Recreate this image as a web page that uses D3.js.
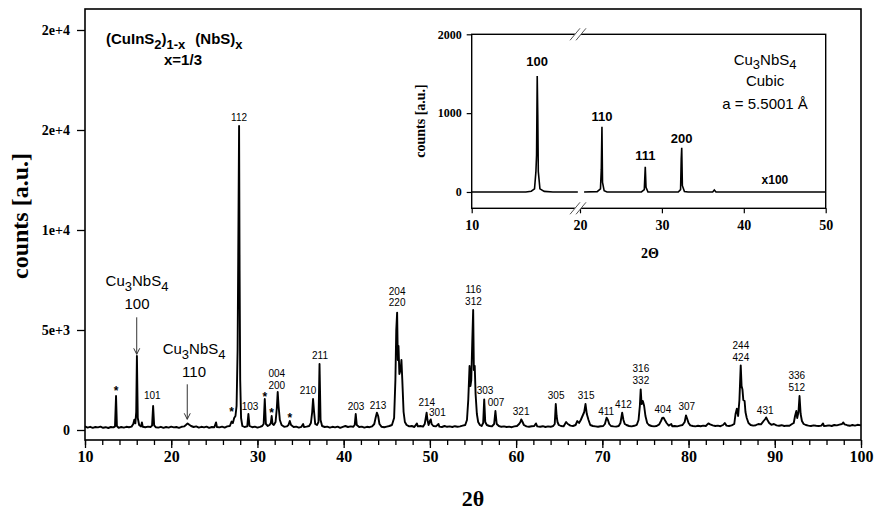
<!DOCTYPE html>
<html>
<head>
<meta charset="utf-8">
<script src="https://cdn.jsdelivr.net/npm/d3@7"></script>
<style>
body { margin: 0; background: #fff; }
svg { display: block; }
</style>
</head>
<body>
<div id="plot"></div>
<script>
// main pattern, [2theta, counts]
const mainPattern = [
  [10,180],[10.3,120],[10.6,160],[10.9,110],[11.2,150],[11.5,130],[11.8,170],[12.1,110],[12.4,140],[12.7,100],[13.0,150],[13.3,130],
  [13.48,180],[13.6,1700],[13.7,200],[13.9,110],[14.2,150],[14.5,120],[14.8,160],[15.1,140],[15.4,170],
  [15.6,300],[15.72,520],[15.84,330],[15.94,900],[16.02,3700],[16.12,600],[16.28,250],[16.5,180],[16.6,380],[16.7,160],[17.0,140],[17.3,170],[17.6,150],
  [17.78,220],[17.9,1200],[18.02,230],[18.2,140],[18.5,120],[18.8,160],[19.1,110],[19.4,150],[19.7,120],[20.0,170],[20.3,130],[20.6,150],[20.9,110],[21.2,160],[21.5,180],
  [21.7,250],[21.9,330],[22.1,260],[22.3,200],[22.6,150],[22.9,180],[23.2,120],[23.5,160],[23.8,130],[24.1,170],[24.4,110],[24.7,150],[25.0,140],[25.2,380],[25.3,150],[25.6,130],[25.9,170],[26.2,120],[26.5,180],[26.8,200],[27.0,420],[27.15,350],[27.3,600],[27.45,700],
  [27.58,1200],[27.7,4000],[27.8,10500],[27.87,15200],[27.93,8000],[28.0,2500],[28.1,600],[28.25,200],[28.5,150],
  [28.82,180],[28.95,800],[29.08,200],[29.4,140],[29.7,170],[30.0,120],[30.3,160],[30.55,200],
  [30.72,300],[30.85,1550],[30.98,300],[31.2,200],[31.4,250],[31.55,350],[31.65,700],[31.75,300],[31.9,250],
  [32.1,400],[32.25,1100],[32.35,1900],[32.45,1200],[32.6,500],[32.8,250],[33.1,160],[33.4,180],[33.6,250],[33.75,450],[33.9,250],
  [34.2,150],[34.5,170],[34.8,120],[35.1,160],[35.3,300],[35.4,150],[35.7,170],[36.0,200],[36.2,350],
  [36.35,900],[36.45,1550],[36.55,1000],[36.7,300],[36.9,250],[37.08,400],[37.2,3300],[37.32,500],[37.5,200],
  [37.8,150],[38.1,170],[38.4,120],[38.7,160],[39.0,130],[39.3,170],[39.6,110],[39.9,160],[40.2,200],[40.5,150],[40.8,180],[41.1,160],
  [41.28,250],[41.4,800],[41.52,250],[41.8,150],[42.1,170],[42.4,120],[42.7,160],[43.0,140],[43.3,180],[43.55,300],
  [43.7,600],[43.85,870],[44.0,700],[44.15,300],[44.4,160],[44.7,140],[45.0,170],[45.3,200],[45.6,250],[45.85,600],
  [46.0,2500],[46.1,5000],[46.2,5870],[46.28,3500],[46.36,4200],[46.46,2800],[46.6,3000],[46.7,3500],[46.8,2500],[46.95,900],[47.1,400],[47.3,250],[47.6,180],[47.9,200],[48.2,150],[48.5,330],[48.6,180],[48.9,200],[49.2,170],[49.4,300],
  [49.52,600],[49.62,870],[49.72,500],[49.85,250],[50.0,450],[50.1,530],[50.2,300],[50.4,200],[50.7,180],[51.0,300],[51.1,170],[51.4,150],[51.7,200],[52.0,160],[52.3,180],[52.6,150],[52.9,190],[53.2,160],[53.5,180],[53.8,220],[54.1,250],[54.3,500],
  [54.45,1500],[54.6,3200],[54.7,2200],[54.8,2500],[54.92,4500],[55.02,6000],[55.1,3000],[55.2,3200],[55.3,1800],[55.45,800],[55.6,400],[55.8,250],[56.0,200],[56.18,350],[56.3,1530],[56.42,400],[56.6,250],[56.9,200],[57.2,180],[57.45,300],
  [57.6,950],[57.75,300],[58.0,200],[58.3,160],[58.6,180],[58.9,150],[59.2,170],[59.5,140],[59.8,180],[60.1,200],[60.35,300],[60.5,400],[60.6,530],[60.75,400],[60.9,250],[61.2,180],[61.5,160],[61.8,190],[62.1,200],[62.3,330],[62.45,180],[62.8,160],[63.1,190],[63.4,150],[63.7,180],[64.0,160],[64.3,200],[64.48,300],
  [64.6,1300],[64.7,700],[64.8,400],[64.95,250],[65.2,200],[65.5,180],[65.8,400],[66.0,300],[66.3,220],[66.6,200],[66.9,250],[67.1,450],[67.3,350],[67.5,500],[67.7,700],[67.9,900],[68.05,1300],[68.2,800],[68.4,500],[68.6,250],[68.9,200],[69.2,180],[69.5,160],[69.8,190],[70.1,200],[70.3,300],
  [70.5,620],[70.65,500],[70.8,300],[71.0,200],[71.3,180],[71.6,170],[71.9,200],[72.1,350],[72.3,870],[72.45,500],[72.6,300],[72.8,250],[73.1,200],[73.4,180],[73.7,210],[74.0,260],[74.2,500],
  [74.35,1200],[74.45,2030],[74.55,1300],[74.7,1450],[74.85,1200],[75.0,700],[75.2,350],[75.4,250],[75.7,200],[76.0,180],[76.3,200],[76.6,280],[76.8,450],[76.95,600],[77.1,620],[77.25,500],[77.45,350],[77.7,220],[78.0,300],[78.1,190],[78.4,200],[78.7,180],[79.0,220],[79.3,250],[79.55,400],
  [79.7,730],[79.85,550],[80.0,350],[80.2,230],[80.5,200],[80.8,180],[81.1,210],[81.4,190],[81.7,220],[82.0,200],[82.3,330],[82.5,280],[82.8,230],[83.1,200],[83.4,220],[83.7,190],[84.0,250],[84.2,350],[84.4,220],[84.7,200],[85.0,230],[85.3,300],
  [85.45,800],[85.6,1070],[85.75,700],[85.9,1500],[86.05,3230],[86.15,2200],[86.25,2030],[86.35,1500],[86.5,1450],[86.6,900],[86.75,600],[86.95,350],[87.2,250],[87.5,220],[87.8,240],[88.1,300],[88.4,280],[88.7,450],[88.9,550],[89.0,630],[89.15,500],[89.35,350],[89.6,260],[89.9,300],
  [90.2,230],[90.5,210],[90.8,240],[91.1,200],[91.4,220],[91.7,210],[92.0,300],[92.2,350],[92.35,700],[92.5,950],[92.6,600],[92.75,900],[92.87,1700],[93.0,800],[93.15,450],[93.35,300],[93.6,250],[93.9,220],[94.2,200],[94.5,230],[94.8,210],[95.1,200],[95.4,220],[95.6,330],[95.7,200],
  [96.0,210],[96.3,230],[96.6,200],[96.9,250],[97.2,230],[97.5,270],[97.8,300],[97.95,380],[98.1,280],[98.4,240],[98.7,210],[99.0,250],[99.3,220],[99.6,260],[100,230]
];

const xTicks = [10,20,30,40,50,60,70,80,90,100];
const xMinorTicks = d3.range(10, 101, 2);
const yTicks = [0,5000,10000,15000,20000];
const yTickLabels = ["0","5e+3","1e+4","2e+4","2e+4"];

// reflection indices: [text, 2theta, counts at text baseline]
const hklLabels = [
  ["112",27.87,15435],["101",17.8,1535],["103",29.14,1000],["004",32.24,2650],["200",32.24,2035],
  ["210",35.87,1785],["211",37.26,3535],["203",41.44,985],["213",43.99,1035],["204",46.2,6735],["220",46.2,6200],
  ["214",49.64,1200],["301",50.87,700],["116",55.05,6870],["312",55.05,6250],["303",56.4,1785],["007",57.68,1200],
  ["321",60.58,750],["305",64.64,1570],["315",68.12,1535],["411",70.44,750],["412",72.45,1120],["316",74.47,2900],
  ["332",74.47,2320],["404",77.02,870],["307",79.8,985],["244",86.07,4070],["424",86.07,3450],["431",88.89,820],
  ["336",92.56,2535],["512",92.56,1950]
];
// impurity peaks marked with a star: [2theta, counts]
const starMarks = [[13.6,1735],[27.0,700],[30.85,1450],[31.65,650],[33.75,400]];
// Cu3NbS4 reflections: [hkl, text 2theta, text counts, arrow 2theta, arrow top, arrow tip]
const phaseNotes = [
  ["100",16.03,7185,16.0,5635,3785],
  ["110",22.65,3785,21.86,2285,535]
];

// inset: calculated Cu3NbS4 pattern (x100), null = broken axis gap
const insetPattern = [
  [10,0],[15.0,0],[15.5,10],[15.8,40],[15.93,260],[15.99,470],[16.05,1470],[16.1,980],[16.15,260],[16.3,40],[16.7,8],[17.5,0],[19.8,0],
  [20.1,null],
  [20.5,0],[22.1,5],[22.5,40],[22.6,280],[22.68,828],[22.75,120],[22.95,15],[23.3,0],[27.5,0],[27.85,30],[27.97,320],[28.06,60],[28.3,0],
  [32.0,0],[32.28,30],[32.36,418],[32.42,562],[32.5,80],[32.75,5],[33.2,0],[36.2,0],[36.4,25],[36.6,0],[50,0]
];
const insetXTicks = [10,20,30,40,50];
const insetYTicks = [0,1000,2000];
const insetPeakLabels = [["100",16.05,1598],["110",22.68,900],["111",27.97,406],["200",32.42,621]];

const serif = "'Liberation Serif','Times New Roman',serif";
const sans = "'Liberation Sans',Arial,sans-serif";

function chem(g, parts, x, y, size, anchor, weight) {
    // parts: [text, isSubscript, dx]
    const t = g.append("text")
        .attr("x", x).attr("y", y)
        .attr("text-anchor", anchor)
        .style("font-family", sans)
        .style("font-size", size + "px")
        .style("font-weight", weight || "normal");
    let shifted = false;
    parts.forEach(p => {
        const s = t.append("tspan").text(p[0]);
        if (p[1] && !shifted) { s.attr("dy", size*0.3).style("font-size", (size-2) + "px"); shifted = true; }
        else if (p[1]) { s.style("font-size", (size-2) + "px"); }
        else if (!p[1] && shifted) { s.attr("dy", -size*0.3); shifted = false; }
        if (p[2]) s.attr("dx", p[2]);
    });
    return t;
}

function generate() {
    const dimension = {
        width: 891,
        height: 514,
        left: 85, right: 861, top: 9, bottom: 440,
        inset: { left: 471.7, right: 825.7, top: 34.3, bottom: 208.3 }
    };

    const svg = d3.select("#plot").append("svg")
        .attr("width", dimension.width)
        .attr("height", dimension.height);

    // scales
    const x = d3.scaleLinear().domain([10, 100]).range([dimension.left, dimension.right]);
    const y = d3.scaleLinear().domain([-500, 21050]).range([dimension.bottom, dimension.top]);

    // axes
    const xMinor = d3.axisBottom(x).tickValues(xMinorTicks).tickSize(5).tickFormat("").tickSizeOuter(0);
    const xMajor = d3.axisBottom(x).tickValues(xTicks).tickSize(8).tickPadding(3).tickSizeOuter(0);
    const yAxis = d3.axisLeft(y).tickValues(yTicks).tickSize(8).tickPadding(7)
        .tickFormat((d, i) => yTickLabels[i]).tickSizeOuter(0);

    const gxm = svg.append("g").attr("transform", `translate(0,${dimension.bottom})`).call(xMinor);
    const gx = svg.append("g").attr("transform", `translate(0,${dimension.bottom})`).call(xMajor);
    const gy = svg.append("g").attr("transform", `translate(${dimension.left},0)`).call(yAxis);
    [gxm, gx, gy].forEach(g => {
        g.select(".domain").remove();
        g.selectAll(".tick line").attr("stroke", "#000").attr("stroke-width", 1.3);
    });
    gx.selectAll("text").style("font-family", serif).style("font-weight", "bold").style("font-size", "16px").attr("fill", "#000");
    gy.selectAll("text").style("font-family", serif).style("font-weight", "bold").style("font-size", "14px").attr("fill", "#000");

    // frame
    svg.append("rect")
        .attr("x", dimension.left).attr("y", dimension.top)
        .attr("width", dimension.right - dimension.left)
        .attr("height", dimension.bottom - dimension.top)
        .attr("fill", "none").attr("stroke", "#000").attr("stroke-width", 1.6);

    // axis titles
    svg.append("text")
        .attr("transform", "translate(28,216) rotate(-90)")
        .attr("text-anchor", "middle")
        .style("font-family", serif).style("font-weight", "bold").style("font-size", "24px")
        .text("counts [a.u.]");
    svg.append("text")
        .attr("x", 473).attr("y", 506)
        .attr("text-anchor", "middle")
        .style("font-family", serif).style("font-weight", "bold").style("font-size", "22px")
        .text("2θ");

    // pattern
    const line = d3.line().x(d => x(d[0])).y(d => y(d[1]));
    svg.append("path")
        .datum(mainPattern)
        .attr("d", line)
        .attr("fill", "none").attr("stroke", "#000").attr("stroke-width", 1.9)
        .attr("stroke-linejoin", "round");

    // composition title
    chem(svg, [["(CuInS",0],["2",1],[")",0],["1-x",1],["(NbS)",0,10],["x",1]], 106, 44, 15, "start", "bold");
    svg.append("text").attr("x", 183).attr("y", 65).attr("text-anchor", "middle")
        .style("font-family", sans).style("font-weight", "bold").style("font-size", "15px")
        .text("x=1/3");

    // hkl labels
    svg.selectAll(".hkl").data(hklLabels).join("text")
        .attr("class", "hkl")
        .attr("x", d => x(d[1])).attr("y", d => y(d[2]))
        .attr("text-anchor", "middle")
        .style("font-family", sans).style("font-size", "10px")
        .text(d => d[0]);

    svg.selectAll(".star").data(starMarks).join("text")
        .attr("class", "star")
        .attr("x", d => x(d[0])).attr("y", d => y(d[1]))
        .attr("text-anchor", "middle")
        .style("font-family", sans).style("font-weight", "bold").style("font-size", "12px")
        .text("*");

    // Cu3NbS4 reflections with arrows
    phaseNotes.forEach(n => {
        chem(svg, [["Cu",0],["3",1],["NbS",0],["4",1]], x(n[1]), y(n[2]), 15, "middle");
        svg.append("text").attr("x", x(n[1])).attr("y", y(n[2]) + 23)
            .attr("text-anchor", "middle")
            .style("font-family", sans).style("font-size", "15px")
            .text(n[0]);
        const ax = x(n[3]), a0 = y(n[4]), a1 = y(n[5]);
        svg.append("line").attr("x1", ax).attr("x2", ax).attr("y1", a0).attr("y2", a1)
            .attr("stroke", "#333").attr("stroke-width", 1);
        svg.append("path").attr("d", `M${ax-3},${a1-6}L${ax},${a1}L${ax+3},${a1-6}`)
            .attr("fill", "none").attr("stroke", "#333").attr("stroke-width", 1);
    });

    // ---------- inset ----------
    const ins = dimension.inset;
    const ix = d3.scaleLinear().domain([10, 20, 50]).range([ins.left, 580, ins.right]);
    const iy = d3.scaleLinear().domain([-207, 2000]).range([ins.bottom, ins.top]);

    const inset = svg.append("g");
    const ixAxis = d3.axisBottom(ix).tickValues(insetXTicks).tickSize(5).tickPadding(7).tickSizeOuter(0);
    const iyAxis = d3.axisLeft(iy).tickValues(insetYTicks).tickSize(5).tickPadding(5)
        .tickFormat(d3.format("d")).tickSizeOuter(0);
    const gix = inset.append("g").attr("transform", `translate(0,${ins.bottom})`).call(ixAxis);
    const giy = inset.append("g").attr("transform", `translate(${ins.left},0)`).call(iyAxis);
    [gix, giy].forEach(g => {
        g.select(".domain").remove();
        g.selectAll(".tick line").attr("stroke", "#000").attr("stroke-width", 1.2);
    });
    gix.selectAll("text").style("font-family", serif).style("font-weight", "bold").style("font-size", "14px").attr("fill", "#000");
    giy.selectAll("text").style("font-family", serif).style("font-weight", "bold").style("font-size", "12px").attr("fill", "#000");

    inset.append("rect")
        .attr("x", ins.left).attr("y", ins.top)
        .attr("width", ins.right - ins.left).attr("height", ins.bottom - ins.top)
        .attr("fill", "none").attr("stroke", "#000").attr("stroke-width", 1.4);

    // axis break marks
    const bx = ix(20);
    [ins.top, ins.bottom].forEach(by => {
        inset.append("path").attr("d", `M${bx-10},${by+6}L${bx},${by-6}L${bx+6},${by-6}L${bx-4},${by+6}Z`)
            .attr("fill", "#fff");
        inset.append("path").attr("d", `M${bx-10},${by+6}L${bx},${by-6}M${bx-4},${by+6}L${bx+6},${by-6}`)
            .attr("stroke", "#555").attr("stroke-width", 1);
    });

    const iline = d3.line().defined(d => d[1] !== null).x(d => ix(d[0])).y(d => iy(d[1]));
    inset.append("path")
        .datum(insetPattern)
        .attr("d", iline)
        .attr("fill", "none").attr("stroke", "#000").attr("stroke-width", 1.6);

    inset.selectAll(".ilab").data(insetPeakLabels).join("text")
        .attr("class", "ilab")
        .attr("x", d => ix(d[1])).attr("y", d => iy(d[2]))
        .attr("text-anchor", "middle")
        .style("font-family", sans).style("font-weight", "bold").style("font-size", "13px")
        .text(d => d[0]);

    inset.append("text").attr("x", ix(43.8)).attr("y", iy(101))
        .attr("text-anchor", "middle")
        .style("font-family", sans).style("font-weight", "bold").style("font-size", "12px")
        .text("x100");

    chem(inset, [["Cu",0],["3",1],["NbS",0],["4",1]], ix(42.6), iy(1611), 15, "middle");
    inset.append("text").attr("x", ix(42.6)).attr("y", iy(1344)).attr("text-anchor", "middle")
        .style("font-family", sans).style("font-size", "15px").text("Cubic");
    inset.append("text").attr("x", ix(42.6)).attr("y", iy(1053)).attr("text-anchor", "middle")
        .style("font-family", sans).style("font-size", "15px").text("a = 5.5001 Å");

    inset.append("text")
        .attr("transform", "translate(425,121) rotate(-90)")
        .attr("text-anchor", "middle")
        .style("font-family", serif).style("font-weight", "bold").style("font-size", "14px")
        .text("counts [a.u.]");
    inset.append("text")
        .attr("x", 650).attr("y", 258)
        .attr("text-anchor", "middle")
        .style("font-family", serif).style("font-weight", "bold").style("font-size", "14px")
        .text("2Θ");
}

generate()
</script>
</body>
</html>
